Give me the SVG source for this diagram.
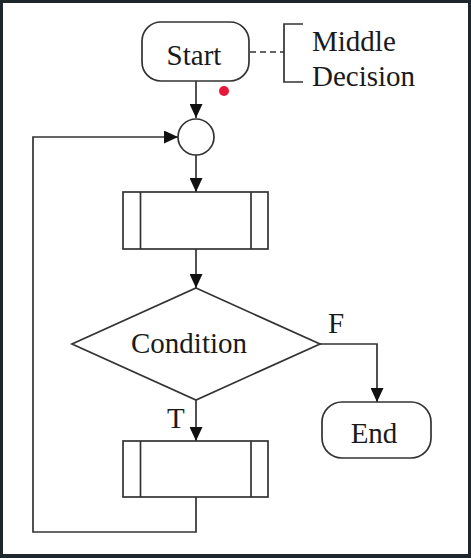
<svg xmlns="http://www.w3.org/2000/svg" width="471" height="558" viewBox="0 0 471 558">
  <defs>
    <marker id="arrow" markerUnits="userSpaceOnUse" markerWidth="14" markerHeight="13" refX="14" refY="6.5" orient="auto">
      <path d="M0,0 L14,6.5 L0,13 z" fill="#111"/>
    </marker>
  </defs>
  <style>
    .shape { fill: #fff; stroke: #333; stroke-width: 1.7; }
    .line { fill: none; stroke: #333; stroke-width: 1.7; }
    text { font-family: 'Liberation Serif', 'DejaVu Serif', serif; font-size: 29px; fill: #1a1a1a; }
  </style>
  <rect x="0" y="0" width="471" height="558" fill="#1e272c"/>
  <rect x="3" y="3" width="465" height="551" fill="#fff"/>

  <g id="connectors">
    <path class="line" d="M196 81 V118" marker-end="url(#arrow)"/>
    <path class="line" d="M196 155 V192" marker-end="url(#arrow)"/>
    <path class="line" d="M196 249 V288" marker-end="url(#arrow)"/>
    <path class="line" d="M320 344 H377 V402" marker-end="url(#arrow)"/>
    <path class="line" d="M196 400 V441" marker-end="url(#arrow)"/>
    <path class="line" d="M196 497 V532 H33 V137 H178" marker-end="url(#arrow)"/>
    <path class="line" d="M250 52 H284" stroke-dasharray="6 4"/>
  </g>

  <g id="start">
    <rect class="shape" x="142" y="22" width="107" height="59" rx="19" ry="19"/>
    <text x="194" y="65" text-anchor="middle">Start</text>
  </g>

  <g id="annotation">
    <path class="line" d="M303 24 H284 V82 H303"/>
    <text x="312" y="51">Middle</text>
    <text x="312" y="86">Decision</text>
  </g>

  <g id="junction">
    <circle class="shape" cx="196" cy="137" r="18"/>
  </g>

  <g id="process1">
    <rect class="shape" x="123" y="192" width="145" height="57"/>
    <path class="line" d="M140.5 192 V249 M251 192 V249"/>
  </g>

  <g id="condition">
    <polygon class="shape" points="196,288 320,344 196,400 72,344"/>
    <text x="189" y="353" text-anchor="middle">Condition</text>
  </g>

  <g id="labels">
    <text x="328" y="333">F</text>
    <text x="167" y="428">T</text>
  </g>

  <g id="end">
    <rect class="shape" x="322" y="402" width="109" height="56" rx="20" ry="20"/>
    <text x="374" y="443" text-anchor="middle">End</text>
  </g>

  <g id="process2">
    <rect class="shape" x="123" y="441" width="145" height="56"/>
    <path class="line" d="M140.5 441 V497 M251 441 V497"/>
  </g>

  <circle cx="224" cy="91" r="5" fill="#e8173a"/>
</svg>
